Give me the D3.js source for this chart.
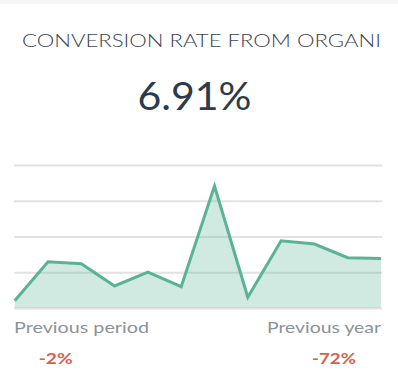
<!DOCTYPE html>
<html><head><meta charset="utf-8">
<script src="https://cdn.jsdelivr.net/npm/d3@7"></script>
<style>
html,body{margin:0;padding:0;background:#fff;}
svg{display:block;}
</style></head>
<body>
<svg id="c" width="398" height="388"></svg>
<script>
const title = "CONVERSION RATE FROM ORGANI";
const bigValue = "6.91%";
const periods = ["p1","p2","p3","p4","p5","p6","p7","p8","p9","p10","p11","p12"];
const values = [1.02, 6.48, 6.2, 3.08, 5.03, 2.98, 17.06, 1.5, 9.41, 8.95, 7.03, 6.91];
const yTicks = [0, 5, 10, 15, 20];
const compareLabels = ["Previous period", "Previous year"];
const compareValues = ["-2%", "-72%"];

const svg = d3.select("#c");
svg.append("rect").attr("x",0).attr("y",0).attr("width",398).attr("height",4).attr("fill","#f6f6f6");

svg.append("text").attr("x",22).attr("y",47).attr("font-family","Lato, 'Open Sans', sans-serif")
  .attr("font-size",18).attr("font-weight",300).attr("fill","#3a4452").attr("textLength",359).attr("lengthAdjust","spacingAndGlyphs")
  .text(title);

svg.append("text").attr("x",194.5).attr("y",109.5).attr("text-anchor","middle")
  .attr("font-family","Lato, 'Open Sans', sans-serif").attr("font-size",39).attr("fill","#2c3a4b")
  .attr("textLength",114).attr("lengthAdjust","spacingAndGlyphs").text(bigValue);

const x = d3.scalePoint().domain(periods).range([14.7, 381]);
const y = d3.scaleLinear().domain([0, 20]).range([308, 165]);

const yAxis = d3.axisLeft(y).tickValues(yTicks).tickSize(-368).tickFormat("");
const gA = svg.append("g").attr("transform","translate(14,0)").call(yAxis);
gA.select(".domain").remove();
gA.selectAll(".tick line").attr("stroke","#e2e2e2").attr("stroke-width",2);

const area = d3.area().x((d,i)=>x(periods[i])).y0(y(0)).y1(d=>y(d));
const line = d3.line().x((d,i)=>x(periods[i])).y(d=>y(d));
svg.append("path").datum(values).attr("d",area).attr("fill","#5bb595").attr("fill-opacity",0.28);
svg.append("path").datum(values).attr("d",line).attr("fill","none").attr("stroke","#5ab394")
  .attr("stroke-width",3).attr("stroke-linejoin","miter");

const lab = [{x:14, a:"start", w:135},{x:381, a:"end", w:114}];
compareLabels.forEach((t,i)=>{
  svg.append("text").attr("x",lab[i].x).attr("y",333).attr("text-anchor",lab[i].a)
    .attr("font-family","Lato, 'Open Sans', sans-serif").attr("font-size",15).attr("fill","#8c929b")
    .attr("textLength",lab[i].w).attr("lengthAdjust","spacingAndGlyphs").text(t);
});
const vpos = [{x:55.7, w:34},{x:334, w:44}];
compareValues.forEach((t,i)=>{
  svg.append("text").attr("x",vpos[i].x).attr("y",363.5).attr("text-anchor","middle")
    .attr("font-family","Lato, 'Open Sans', sans-serif").attr("font-weight","bold").attr("font-size",16)
    .attr("fill","#d9604b").attr("textLength",vpos[i].w).attr("lengthAdjust","spacingAndGlyphs").text(t);
});
</script>
</body></html>
